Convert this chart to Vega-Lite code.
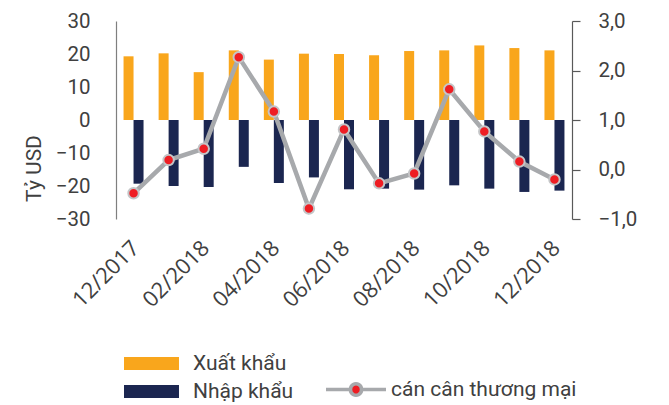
{
  "$schema": "https://vega.github.io/schema/vega-lite/v6.json",
  "autosize": {"type": "none"},
  "width": 456,
  "height": 198,
  "padding": {"left": 116, "top": 21, "right": 97, "bottom": 186},
  "background": "white",
  "config": {
    "view": {"stroke": null},
    "font": "Roboto",
    "axis": {"grid": false, "labelColor": "#404040", "titleColor": "#404040", "labelFont": "Roboto", "titleFont": "Roboto"},
    "legend": {"labelFont": "Roboto", "labelColor": "#404040", "padding": 0, "labelLimit": 400}
  },
  "data": {
    "values": [
      {"idx": 1, "month": "12/2017", "Xuất khẩu": 19.3, "Nhập khẩu": -19.3, "bal": -0.48},
      {"idx": 2, "month": "01/2018", "Xuất khẩu": 20.2, "Nhập khẩu": -20.0, "bal": 0.19},
      {"idx": 3, "month": "02/2018", "Xuất khẩu": 14.5, "Nhập khẩu": -20.3, "bal": 0.42},
      {"idx": 4, "month": "03/2018", "Xuất khẩu": 21.1, "Nhập khẩu": -14.2, "bal": 2.27},
      {"idx": 5, "month": "04/2018", "Xuất khẩu": 18.3, "Nhập khẩu": -19.1, "bal": 1.17},
      {"idx": 6, "month": "05/2018", "Xuất khẩu": 20.1, "Nhập khẩu": -17.4, "bal": -0.79},
      {"idx": 7, "month": "06/2018", "Xuất khẩu": 20.0, "Nhập khẩu": -21.0, "bal": 0.81},
      {"idx": 8, "month": "07/2018", "Xuất khẩu": 19.6, "Nhập khẩu": -20.8, "bal": -0.28},
      {"idx": 9, "month": "08/2018", "Xuất khẩu": 20.9, "Nhập khẩu": -21.1, "bal": -0.08},
      {"idx": 10, "month": "09/2018", "Xuất khẩu": 21.1, "Nhập khẩu": -19.8, "bal": 1.62},
      {"idx": 11, "month": "10/2018", "Xuất khẩu": 22.6, "Nhập khẩu": -20.8, "bal": 0.77},
      {"idx": 12, "month": "11/2018", "Xuất khẩu": 21.8, "Nhập khẩu": -21.8, "bal": 0.16},
      {"idx": 13, "month": "12/2018", "Xuất khẩu": 21.1, "Nhập khẩu": -21.4, "bal": -0.20}
    ]
  },
  "encoding": {
    "x": {
      "field": "month", "type": "nominal",
      "scale": {
        "domain": ["12/2017","01/2018","02/2018","03/2018","04/2018","05/2018","06/2018","07/2018","08/2018","09/2018","10/2018","11/2018","12/2018"],
        "paddingInner": 0.43, "paddingOuter": 0.215
      },
      "axis": {
        "title": null, "domain": false, "ticks": false, "labelAngle": -45,
        "values": ["12/2017","02/2018","04/2018","06/2018","08/2018","10/2018","12/2018"],
        "labelFont": "Open Sans", "labelFontSize": 22, "labelPadding": 18, "labelOffset": -5
      }
    }
  },
  "layer": [
    {
      "transform": [{"fold": ["Xuất khẩu", "Nhập khẩu"], "as": ["series", "value"]}],
      "mark": {"type": "bar"},
      "encoding": {
        "xOffset": {"field": "series", "type": "nominal", "scale": {"domain": ["Xuất khẩu", "Nhập khẩu"], "paddingInner": 0, "paddingOuter": 0}},
        "y": {
          "field": "value", "type": "quantitative", "stack": null,
          "scale": {"domain": [-30, 30], "nice": false},
          "axis": {
            "orient": "left", "values": [-30, -20, -10, 0, 10, 20, 30],
            "title": "Tỷ USD", "titleFontSize": 21, "titleFontWeight": "normal",
            "titleY": 147, "titleX": -76, "titleBaseline": "alphabetic",
            "labelFontSize": 20.5, "labelPadding": 26, "ticks": false,
            "domainColor": "#7F7F7F", "domainWidth": 1.2
          }
        },
        "color": {
          "field": "series", "type": "nominal",
          "scale": {"domain": ["Xuất khẩu", "Nhập khẩu"], "range": ["#F9A61C", "#1B2650"]},
          "legend": {
            "title": null, "orient": "none", "legendX": 4, "legendY": 332,
            "direction": "vertical",
            "symbolType": "M-1,-1H7.46V1H-1Z", "symbolSize": 169,
            "symbolStrokeWidth": 0, "labelFontSize": 21, "labelOffset": 52, "rowPadding": 6
          }
        }
      }
    },
    {
      "encoding": {
        "y": {
          "field": "bal", "type": "quantitative",
          "scale": {"domain": [-1, 3], "nice": false},
          "axis": {
            "orient": "right", "values": [-1, 0, 1, 2, 3], "title": null,
            "labelExpr": "replace(format(datum.value, '.1f'), '.', ',')",
            "labelFontSize": 20.5, "labelPadding": 18, "tickSize": 8,
            "tickColor": "#595959", "domainColor": "#595959", "domainWidth": 1.2, "tickWidth": 1.2
          }
        },
        "order": {"field": "idx", "type": "quantitative"}
      },
      "layer": [
        {
          "mark": {"type": "line", "strokeWidth": 4.5},
          "encoding": {
            "stroke": {
              "datum": "cán cân thương mại",
              "scale": {"range": ["#A7A9AC"]},
              "legend": {
                "title": null, "orient": "none", "legendX": 206, "legendY": 358,
                "symbolType": "M-1,0H2.77M4.46,0H8.23M4.46,0A0.846,0.846,0,1,1,2.77,0A0.846,0.846,0,1,1,4.46,0Z",
                "symbolSize": 169, "labelFontSize": 21, "labelOffset": 48,
                "symbolStrokeWidth": 3.5, "symbolFillColor": "#EE1D23",
                "encode": {"symbols": {"update": {"fill": {"value": "#EE1D23"}, "stroke": {"value": "#A7A9AC"}, "strokeWidth": {"value": 3.5}, "opacity": {"value": 1}}}}
              }
            }
          }
        },
        {
          "mark": {"type": "point", "filled": true, "fill": "#EE1D23", "stroke": "#C4C5C7", "strokeWidth": 2, "size": 110, "opacity": 1},
          "encoding": {}
        }
      ]
    }
  ],
  "resolve": {"scale": {"y": "independent"}}
}
